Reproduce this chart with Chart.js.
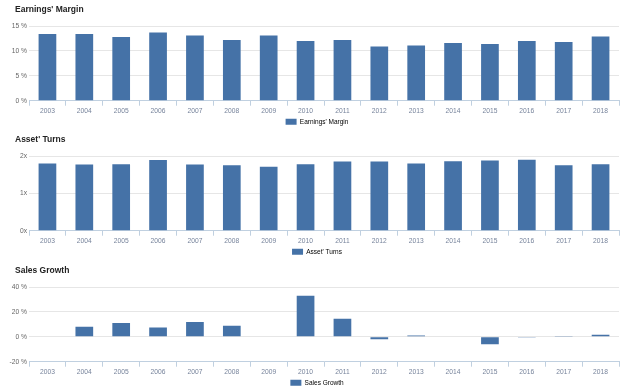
<!DOCTYPE html>
<html>
<head>
<meta charset="utf-8">
<script src="https://cdn.jsdelivr.net/npm/chart.js@4/dist/chart.umd.min.js"></script>
<style>
    html, body { margin: 0; padding: 0; background: #fff; overflow: hidden; }
    body { width: 628px; height: 391px; position: relative; }
    .panel { position: absolute; left: 0; width: 628px; height: 135px; }
</style>
</head>
<body>
<div class="panel" style="top:0px"><canvas id="marginChart"></canvas></div>
<div class="panel" style="top:130px"><canvas id="turnsChart"></canvas></div>
<div class="panel" style="top:261px"><canvas id="growthChart"></canvas></div>
<script>
const years = ['2003', '2004', '2005', '2006', '2007', '2008', '2009', '2010',
    '2011', '2012', '2013', '2014', '2015', '2016', '2017', '2018'];

// percent
const earningsMargin = [13.4, 13.4, 12.8, 13.7, 13.1, 12.2, 13.1, 12.0,
    12.2, 10.9, 11.1, 11.6, 11.4, 12.0, 11.8, 12.9];

// times
const assetTurns = [1.80, 1.77, 1.78, 1.89, 1.77, 1.75, 1.71, 1.78,
    1.85, 1.85, 1.80, 1.86, 1.88, 1.90, 1.75, 1.78];

// percent, no value for 2003 and 2009
const salesGrowth = [null, 8.1, 11.0, 7.5, 11.8, 8.9, null, 33.0,
    14.5, -1.9, 1.0, -0.3, -6.0, -0.5, 0.6, 1.6];

const barColor = '#4572a7';
const fontFamily = '"Liberation Sans", Arial, sans-serif';

// y labels hang out to the left of the (narrow) axis box, so don't clip them
const labelRoom = {
    id: 'labelRoom',
    afterLayout(chart) {
        chart.scales.y.left = 0;
    }
};

function makeChart(id, title, label, values, yMin, yMax, step, unit) {
    const chartData = {
        labels: years,
        datasets: [{
            label: label,
            data: values,
            backgroundColor: barColor,
            borderWidth: 0,
            categoryPercentage: 0.6,
            barPercentage: 0.8
        }]
    };

    const config = {
        type: 'bar',
        data: chartData,
        plugins: [labelRoom],
        options: {
            responsive: true,
            maintainAspectRatio: false,
            animation: false,
            layout: {
                padding: { left: 15, right: 9, top: 0, bottom: 0 }
            },
            plugins: {
                title: {
                    display: true,
                    text: title,
                    align: 'start',
                    color: '#222',
                    font: { family: fontFamily, size: 8.5, weight: 'bold' },
                    padding: { top: 4.9, bottom: 10.9 }
                },
                legend: {
                    position: 'bottom',
                    labels: {
                        boxWidth: 11,
                        boxHeight: 6,
                        padding: 2.75,
                        color: '#555',
                        font: { family: fontFamily, size: 6.5 },
                        generateLabels: chart => chart.data.datasets.map((ds, i) => ({
                            text: ds.label,
                            fillStyle: barColor,
                            strokeStyle: barColor,
                            lineWidth: 0,
                            datasetIndex: i
                        }))
                    }
                },
                tooltip: { enabled: false }
            },
            scales: {
                x: {
                    grid: {
                        offset: true,
                        drawOnChartArea: false,
                        drawTicks: true,
                        tickLength: 5,
                        color: '#c0d0e0'
                    },
                    border: { color: '#c0d0e0' },
                    ticks: {
                        padding: 1,
                        color: '#76839b',
                        maxRotation: 0,
                        autoSkip: false,
                        font: { family: fontFamily, size: 6.7 }
                    }
                },
                y: {
                    min: yMin,
                    max: yMax,
                    grid: { color: '#e6e6e6', drawTicks: false },
                    border: { display: false },
                    afterFit: scale => { scale.width = 14; },
                    ticks: {
                        stepSize: step,
                        padding: 2,
                        color: '#666',
                        font: { family: fontFamily, size: 6.7 },
                        callback: v => v + unit
                    }
                }
            }
        }
    };

    const ctx = document.getElementById(id).getContext('2d');
    if (ctx) {
        new Chart(ctx, config);
    }
}

makeChart('marginChart', "Earnings' Margin", "Earnings' Margin", earningsMargin, 0, 15, 5, ' %');
makeChart('turnsChart', "Asset' Turns", "Asset' Turns", assetTurns, 0, 2, 1, 'x');
makeChart('growthChart', 'Sales Growth', 'Sales Growth', salesGrowth, -20, 40, 20, ' %');
</script>
</body>
</html>
